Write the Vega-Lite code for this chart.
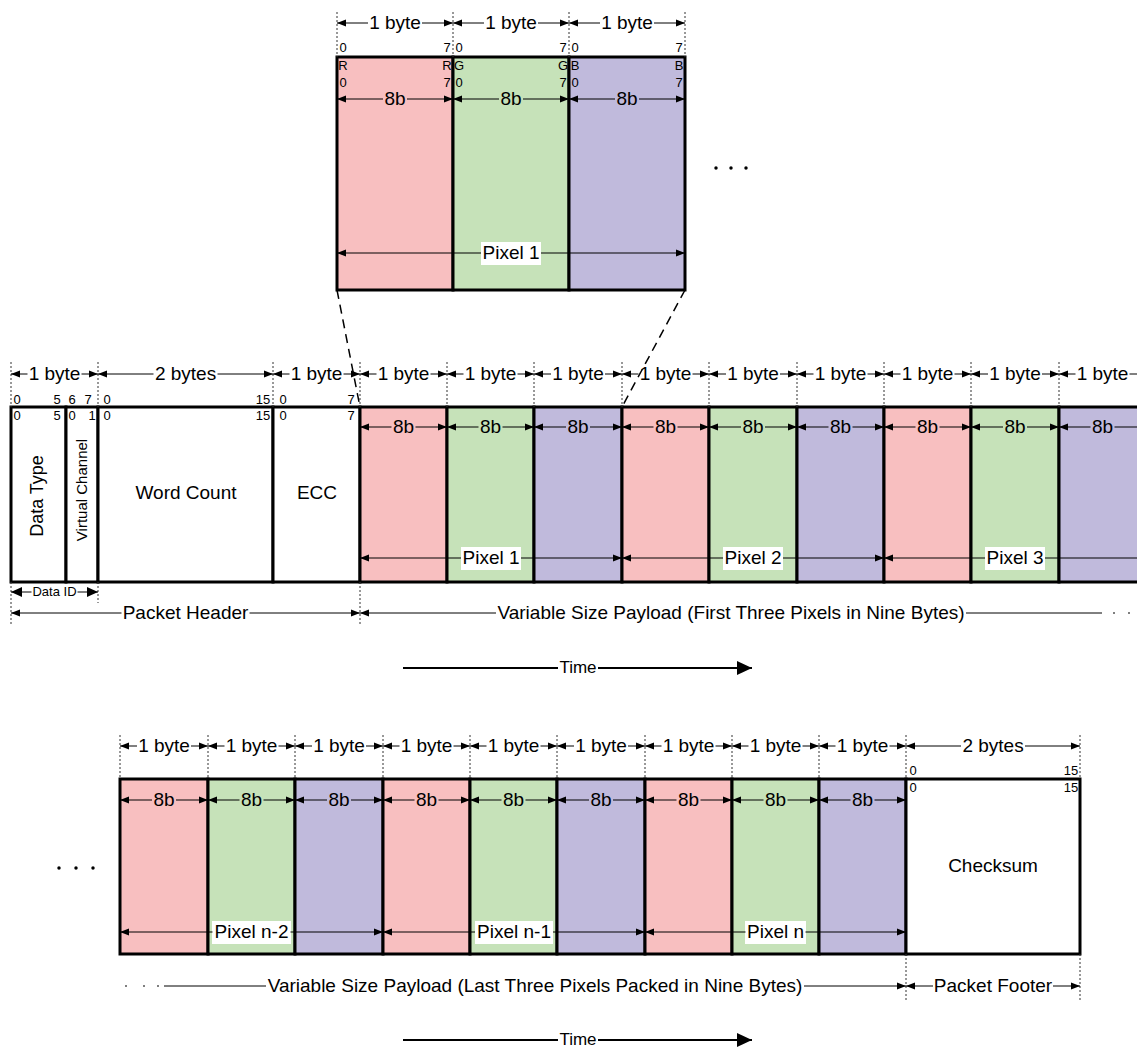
{
  "$schema": "https://vega.github.io/schema/vega-lite/v6.json",
  "width": 1137,
  "height": 1050,
  "autosize": "none",
  "padding": 0,
  "background": "white",
  "config": {"view": {"stroke": null}, "text": {"font": "Liberation Sans"}},
  "datasets": {
    "boxes": [
      {"x1": 337, "x2": 453, "y1": 57, "y2": 290, "c": "R"},
      {"x1": 453, "x2": 569, "y1": 57, "y2": 290, "c": "G"},
      {"x1": 569, "x2": 685, "y1": 57, "y2": 290, "c": "B"},
      {"x1": 11, "x2": 66, "y1": 407, "y2": 582, "c": "W"},
      {"x1": 66, "x2": 98, "y1": 407, "y2": 582, "c": "W"},
      {"x1": 98, "x2": 273, "y1": 407, "y2": 582, "c": "W"},
      {"x1": 273, "x2": 360, "y1": 407, "y2": 582, "c": "W"},
      {"x1": 360, "x2": 447, "y1": 407, "y2": 582, "c": "R"},
      {"x1": 447, "x2": 534, "y1": 407, "y2": 582, "c": "G"},
      {"x1": 534, "x2": 622, "y1": 407, "y2": 582, "c": "B"},
      {"x1": 622, "x2": 709, "y1": 407, "y2": 582, "c": "R"},
      {"x1": 709, "x2": 797, "y1": 407, "y2": 582, "c": "G"},
      {"x1": 797, "x2": 884, "y1": 407, "y2": 582, "c": "B"},
      {"x1": 884, "x2": 971, "y1": 407, "y2": 582, "c": "R"},
      {"x1": 971, "x2": 1059, "y1": 407, "y2": 582, "c": "G"},
      {"x1": 1059, "x2": 1146, "y1": 407, "y2": 582, "c": "B"},
      {"x1": 120, "x2": 208, "y1": 779, "y2": 954, "c": "R"},
      {"x1": 208, "x2": 295, "y1": 779, "y2": 954, "c": "G"},
      {"x1": 295, "x2": 383, "y1": 779, "y2": 954, "c": "B"},
      {"x1": 383, "x2": 470, "y1": 779, "y2": 954, "c": "R"},
      {"x1": 470, "x2": 557, "y1": 779, "y2": 954, "c": "G"},
      {"x1": 557, "x2": 645, "y1": 779, "y2": 954, "c": "B"},
      {"x1": 645, "x2": 732, "y1": 779, "y2": 954, "c": "R"},
      {"x1": 732, "x2": 819, "y1": 779, "y2": 954, "c": "G"},
      {"x1": 819, "x2": 906, "y1": 779, "y2": 954, "c": "B"},
      {"x1": 906, "x2": 1080, "y1": 779, "y2": 954, "c": "W"}
    ],
    "bgs": [
      {"x1": 481, "x2": 541, "y1": 242, "y2": 265},
      {"x1": 461, "x2": 521, "y1": 547, "y2": 570},
      {"x1": 723, "x2": 783, "y1": 547, "y2": 570},
      {"x1": 985, "x2": 1045, "y1": 547, "y2": 570},
      {"x1": 212, "x2": 291, "y1": 921, "y2": 944},
      {"x1": 475, "x2": 553, "y1": 921, "y2": 944},
      {"x1": 745, "x2": 806, "y1": 921, "y2": 944}
    ],
    "dotted": [
      {"x": 337, "y1": 12, "y2": 57}, {"x": 453, "y1": 12, "y2": 57}, {"x": 569, "y1": 12, "y2": 57}, {"x": 685, "y1": 12, "y2": 57},
      {"x": 11, "y1": 362, "y2": 407}, {"x": 98, "y1": 362, "y2": 407}, {"x": 273, "y1": 362, "y2": 407}, {"x": 360, "y1": 362, "y2": 407},
      {"x": 447, "y1": 362, "y2": 407}, {"x": 534, "y1": 362, "y2": 407}, {"x": 622, "y1": 362, "y2": 407}, {"x": 709, "y1": 362, "y2": 407},
      {"x": 797, "y1": 362, "y2": 407}, {"x": 884, "y1": 362, "y2": 407}, {"x": 971, "y1": 362, "y2": 407}, {"x": 1059, "y1": 362, "y2": 407},
      {"x": 11, "y1": 582, "y2": 625}, {"x": 98, "y1": 582, "y2": 603}, {"x": 360, "y1": 582, "y2": 625},
      {"x": 120, "y1": 735, "y2": 779}, {"x": 208, "y1": 735, "y2": 779}, {"x": 295, "y1": 735, "y2": 779}, {"x": 383, "y1": 735, "y2": 779},
      {"x": 470, "y1": 735, "y2": 779}, {"x": 557, "y1": 735, "y2": 779}, {"x": 645, "y1": 735, "y2": 779}, {"x": 732, "y1": 735, "y2": 779},
      {"x": 819, "y1": 735, "y2": 779}, {"x": 906, "y1": 735, "y2": 779}, {"x": 1080, "y1": 735, "y2": 779},
      {"x": 906, "y1": 954, "y2": 1000}, {"x": 1080, "y1": 954, "y2": 1000}
    ],
    "dashed": [
      {"x1": 337, "y1": 290, "x2": 360, "y2": 407},
      {"x1": 685, "y1": 290, "x2": 622, "y2": 407}
    ],
    "arrows": [
      {"x1": 337, "x2": 453, "t1": 368, "t2": 422, "y": 23, "lx": 395, "label": "1 byte", "role": "byte", "hl": true, "hr": true},
      {"x1": 453, "x2": 569, "t1": 484, "t2": 538, "y": 23, "lx": 511, "label": "1 byte", "role": "byte", "hl": true, "hr": true},
      {"x1": 569, "x2": 685, "t1": 600, "t2": 654, "y": 23, "lx": 627, "label": "1 byte", "role": "byte", "hl": true, "hr": true},
      {"x1": 337, "x2": 453, "t1": 383, "t2": 407, "y": 99, "lx": 395, "label": "8b", "role": "bit8", "hl": true, "hr": true},
      {"x1": 453, "x2": 569, "t1": 499, "t2": 523, "y": 99, "lx": 511, "label": "8b", "role": "bit8", "hl": true, "hr": true},
      {"x1": 569, "x2": 685, "t1": 615, "t2": 639, "y": 99, "lx": 627, "label": "8b", "role": "bit8", "hl": true, "hr": true},
      {"x1": 337, "x2": 685, "t1": 481, "t2": 541, "y": 253, "lx": 511, "label": "Pixel 1", "role": "pixel", "hl": true, "hr": true},

      {"x1": 11, "x2": 98, "t1": 27.5, "t2": 81.5, "y": 374, "lx": 54.5, "label": "1 byte", "role": "byte", "hl": true, "hr": true},
      {"x1": 98, "x2": 273, "t1": 153.5, "t2": 217.5, "y": 374, "lx": 185.5, "label": "2 bytes", "role": "byte", "hl": true, "hr": true},
      {"x1": 273, "x2": 360, "t1": 289.5, "t2": 343.5, "y": 374, "lx": 316.5, "label": "1 byte", "role": "byte", "hl": true, "hr": true},
      {"x1": 360, "x2": 447, "t1": 376.5, "t2": 430.5, "y": 374, "lx": 403.5, "label": "1 byte", "role": "byte", "hl": true, "hr": true},
      {"x1": 447, "x2": 534, "t1": 463.5, "t2": 517.5, "y": 374, "lx": 490.5, "label": "1 byte", "role": "byte", "hl": true, "hr": true},
      {"x1": 534, "x2": 622, "t1": 551, "t2": 605, "y": 374, "lx": 578, "label": "1 byte", "role": "byte", "hl": true, "hr": true},
      {"x1": 622, "x2": 709, "t1": 638.5, "t2": 692.5, "y": 374, "lx": 665.5, "label": "1 byte", "role": "byte", "hl": true, "hr": true},
      {"x1": 709, "x2": 797, "t1": 726, "t2": 780, "y": 374, "lx": 753, "label": "1 byte", "role": "byte", "hl": true, "hr": true},
      {"x1": 797, "x2": 884, "t1": 813.5, "t2": 867.5, "y": 374, "lx": 840.5, "label": "1 byte", "role": "byte", "hl": true, "hr": true},
      {"x1": 884, "x2": 971, "t1": 900.5, "t2": 954.5, "y": 374, "lx": 927.5, "label": "1 byte", "role": "byte", "hl": true, "hr": true},
      {"x1": 971, "x2": 1059, "t1": 988, "t2": 1042, "y": 374, "lx": 1015, "label": "1 byte", "role": "byte", "hl": true, "hr": true},
      {"x1": 1059, "x2": 1146, "t1": 1075.5, "t2": 1129.5, "y": 374, "lx": 1102.5, "label": "1 byte", "role": "byte", "hl": true, "hr": true},

      {"x1": 360, "x2": 447, "t1": 391.5, "t2": 415.5, "y": 427, "lx": 403.5, "label": "8b", "role": "bit8", "hl": true, "hr": true},
      {"x1": 447, "x2": 534, "t1": 478.5, "t2": 502.5, "y": 427, "lx": 490.5, "label": "8b", "role": "bit8", "hl": true, "hr": true},
      {"x1": 534, "x2": 622, "t1": 566, "t2": 590, "y": 427, "lx": 578, "label": "8b", "role": "bit8", "hl": true, "hr": true},
      {"x1": 622, "x2": 709, "t1": 653.5, "t2": 677.5, "y": 427, "lx": 665.5, "label": "8b", "role": "bit8", "hl": true, "hr": true},
      {"x1": 709, "x2": 797, "t1": 741, "t2": 765, "y": 427, "lx": 753, "label": "8b", "role": "bit8", "hl": true, "hr": true},
      {"x1": 797, "x2": 884, "t1": 828.5, "t2": 852.5, "y": 427, "lx": 840.5, "label": "8b", "role": "bit8", "hl": true, "hr": true},
      {"x1": 884, "x2": 971, "t1": 915.5, "t2": 939.5, "y": 427, "lx": 927.5, "label": "8b", "role": "bit8", "hl": true, "hr": true},
      {"x1": 971, "x2": 1059, "t1": 1003, "t2": 1027, "y": 427, "lx": 1015, "label": "8b", "role": "bit8", "hl": true, "hr": true},
      {"x1": 1059, "x2": 1146, "t1": 1090.5, "t2": 1114.5, "y": 427, "lx": 1102.5, "label": "8b", "role": "bit8", "hl": true, "hr": true},

      {"x1": 360, "x2": 622, "t1": 461, "t2": 521, "y": 558, "lx": 491, "label": "Pixel 1", "role": "pixel", "hl": true, "hr": true},
      {"x1": 622, "x2": 884, "t1": 723, "t2": 783, "y": 558, "lx": 753, "label": "Pixel 2", "role": "pixel", "hl": true, "hr": true},
      {"x1": 884, "x2": 1146, "t1": 985, "t2": 1045, "y": 558, "lx": 1015, "label": "Pixel 3", "role": "pixel", "hl": true, "hr": true},

      {"x1": 11, "x2": 98, "t1": 31.5, "t2": 77.5, "y": 592, "lx": 54.5, "label": "Data ID", "role": "dataid", "hl": true, "hr": true},
      {"x1": 11, "x2": 360, "t1": 121.5, "t2": 249.5, "y": 613, "lx": 185.5, "label": "Packet Header", "role": "span", "hl": true, "hr": true},
      {"x1": 360, "x2": 1102, "t1": 496, "t2": 966, "y": 613, "lx": 731, "label": "Variable Size Payload (First Three Pixels in Nine Bytes)", "role": "span", "hl": true, "hr": false},
      {"x1": 403, "x2": 752, "t1": 558, "t2": 598, "y": 668, "lx": 578, "label": "Time", "role": "time", "hl": false, "hr": false},

      {"x1": 120, "x2": 208, "t1": 137, "t2": 191, "y": 746, "lx": 164, "label": "1 byte", "role": "byte", "hl": true, "hr": true},
      {"x1": 208, "x2": 295, "t1": 224.5, "t2": 278.5, "y": 746, "lx": 251.5, "label": "1 byte", "role": "byte", "hl": true, "hr": true},
      {"x1": 295, "x2": 383, "t1": 312, "t2": 366, "y": 746, "lx": 339, "label": "1 byte", "role": "byte", "hl": true, "hr": true},
      {"x1": 383, "x2": 470, "t1": 399.5, "t2": 453.5, "y": 746, "lx": 426.5, "label": "1 byte", "role": "byte", "hl": true, "hr": true},
      {"x1": 470, "x2": 557, "t1": 486.5, "t2": 540.5, "y": 746, "lx": 513.5, "label": "1 byte", "role": "byte", "hl": true, "hr": true},
      {"x1": 557, "x2": 645, "t1": 574, "t2": 628, "y": 746, "lx": 601, "label": "1 byte", "role": "byte", "hl": true, "hr": true},
      {"x1": 645, "x2": 732, "t1": 661.5, "t2": 715.5, "y": 746, "lx": 688.5, "label": "1 byte", "role": "byte", "hl": true, "hr": true},
      {"x1": 732, "x2": 819, "t1": 748.5, "t2": 802.5, "y": 746, "lx": 775.5, "label": "1 byte", "role": "byte", "hl": true, "hr": true},
      {"x1": 819, "x2": 906, "t1": 835.5, "t2": 889.5, "y": 746, "lx": 862.5, "label": "1 byte", "role": "byte", "hl": true, "hr": true},
      {"x1": 906, "x2": 1080, "t1": 961, "t2": 1025, "y": 746, "lx": 993, "label": "2 bytes", "role": "byte", "hl": true, "hr": true},

      {"x1": 120, "x2": 208, "t1": 152, "t2": 176, "y": 800, "lx": 164, "label": "8b", "role": "bit8", "hl": true, "hr": true},
      {"x1": 208, "x2": 295, "t1": 239.5, "t2": 263.5, "y": 800, "lx": 251.5, "label": "8b", "role": "bit8", "hl": true, "hr": true},
      {"x1": 295, "x2": 383, "t1": 327, "t2": 351, "y": 800, "lx": 339, "label": "8b", "role": "bit8", "hl": true, "hr": true},
      {"x1": 383, "x2": 470, "t1": 414.5, "t2": 438.5, "y": 800, "lx": 426.5, "label": "8b", "role": "bit8", "hl": true, "hr": true},
      {"x1": 470, "x2": 557, "t1": 501.5, "t2": 525.5, "y": 800, "lx": 513.5, "label": "8b", "role": "bit8", "hl": true, "hr": true},
      {"x1": 557, "x2": 645, "t1": 589, "t2": 613, "y": 800, "lx": 601, "label": "8b", "role": "bit8", "hl": true, "hr": true},
      {"x1": 645, "x2": 732, "t1": 676.5, "t2": 700.5, "y": 800, "lx": 688.5, "label": "8b", "role": "bit8", "hl": true, "hr": true},
      {"x1": 732, "x2": 819, "t1": 763.5, "t2": 787.5, "y": 800, "lx": 775.5, "label": "8b", "role": "bit8", "hl": true, "hr": true},
      {"x1": 819, "x2": 906, "t1": 850.5, "t2": 874.5, "y": 800, "lx": 862.5, "label": "8b", "role": "bit8", "hl": true, "hr": true},

      {"x1": 120, "x2": 383, "t1": 212.5, "t2": 290.5, "y": 932, "lx": 251.5, "label": "Pixel n-2", "role": "pixel", "hl": true, "hr": true},
      {"x1": 383, "x2": 645, "t1": 475, "t2": 553, "y": 932, "lx": 514, "label": "Pixel n-1", "role": "pixel", "hl": true, "hr": true},
      {"x1": 645, "x2": 906, "t1": 745.5, "t2": 805.5, "y": 932, "lx": 775.5, "label": "Pixel n", "role": "pixel", "hl": true, "hr": true},

      {"x1": 164, "x2": 906, "t1": 266, "t2": 804, "y": 986, "lx": 535, "label": "Variable Size Payload (Last Three Pixels Packed in Nine Bytes)", "role": "span", "hl": false, "hr": true},
      {"x1": 906, "x2": 1080, "t1": 933, "t2": 1053, "y": 986, "lx": 993, "label": "Packet Footer", "role": "span", "hl": true, "hr": true},
      {"x1": 403, "x2": 752, "t1": 558, "t2": 598, "y": 1040, "lx": 578, "label": "Time", "role": "time", "hl": false, "hr": false}
    ],
    "dots": [
      {"x": 716, "y": 168, "k": "big"}, {"x": 731, "y": 168, "k": "big"}, {"x": 746, "y": 168, "k": "big"},
      {"x": 59, "y": 868, "k": "big"}, {"x": 76, "y": 868, "k": "big"}, {"x": 93, "y": 868, "k": "big"},
      {"x": 1114, "y": 613, "k": "small"}, {"x": 1129, "y": 613, "k": "small"},
      {"x": 126, "y": 986, "k": "small"}, {"x": 144, "y": 986, "k": "small"}, {"x": 158, "y": 986, "k": "small"}
    ],
    "bits": [
      {"x": 343, "y": 48, "t": "0"}, {"x": 447, "y": 48, "t": "7"}, {"x": 459, "y": 48, "t": "0"}, {"x": 563, "y": 48, "t": "7"}, {"x": 575, "y": 48, "t": "0"}, {"x": 679, "y": 48, "t": "7"},
      {"x": 343, "y": 66, "t": "R"}, {"x": 447, "y": 66, "t": "R"}, {"x": 459, "y": 66, "t": "G"}, {"x": 563, "y": 66, "t": "G"}, {"x": 575, "y": 66, "t": "B"}, {"x": 679, "y": 66, "t": "B"},
      {"x": 343, "y": 83, "t": "0"}, {"x": 447, "y": 83, "t": "7"}, {"x": 459, "y": 83, "t": "0"}, {"x": 563, "y": 83, "t": "7"}, {"x": 575, "y": 83, "t": "0"}, {"x": 679, "y": 83, "t": "7"},
      {"x": 17, "y": 400, "t": "0"}, {"x": 57, "y": 400, "t": "5"}, {"x": 72, "y": 400, "t": "6"}, {"x": 88, "y": 400, "t": "7"}, {"x": 107, "y": 400, "t": "0"}, {"x": 263, "y": 400, "t": "15"}, {"x": 283, "y": 400, "t": "0"}, {"x": 351, "y": 400, "t": "7"},
      {"x": 17, "y": 416, "t": "0"}, {"x": 57, "y": 416, "t": "5"}, {"x": 72, "y": 416, "t": "0"}, {"x": 92, "y": 416, "t": "1"}, {"x": 107, "y": 416, "t": "0"}, {"x": 263, "y": 416, "t": "15"}, {"x": 283, "y": 416, "t": "0"}, {"x": 351, "y": 416, "t": "7"},
      {"x": 913, "y": 771, "t": "0"}, {"x": 1071, "y": 771, "t": "15"}, {"x": 913, "y": 788, "t": "0"}, {"x": 1071, "y": 788, "t": "15"}
    ],
    "names": [
      {"x": 38, "y": 496, "t": "Data Type", "k": "v1"},
      {"x": 82, "y": 490, "t": "Virtual Channel", "k": "v2"},
      {"x": 186, "y": 493, "t": "Word Count", "k": "h"},
      {"x": 317, "y": 493, "t": "ECC", "k": "h"},
      {"x": 993, "y": 866, "t": "Checksum", "k": "h"}
    ]
  },
  "layer": [
    {
      "data": {"name": "boxes"},
      "mark": {"type": "rect", "stroke": "black", "strokeWidth": 3},
      "encoding": {
        "x": {"field": "x1", "type": "quantitative", "scale": {"domain": [0, 1137], "nice": false, "zero": false}, "axis": null},
        "x2": {"field": "x2"},
        "y": {"field": "y1", "type": "quantitative", "scale": {"domain": [0, 1050], "nice": false, "zero": false, "reverse": true}, "axis": null},
        "y2": {"field": "y2"},
        "fill": {"field": "c", "type": "nominal", "scale": {"domain": ["R", "G", "B", "W"], "range": ["#f8bfc0", "#c6e2b9", "#c0badc", "#ffffff"]}, "legend": null}
      }
    },
    {
      "data": {"name": "bgs"},
      "mark": {"type": "rect", "fill": "white"},
      "encoding": {
        "x": {"field": "x1", "type": "quantitative", "axis": null},
        "x2": {"field": "x2"},
        "y": {"field": "y1", "type": "quantitative", "axis": null},
        "y2": {"field": "y2"}
      }
    },
    {
      "data": {"name": "dotted"},
      "mark": {"type": "rule", "color": "#333333", "strokeWidth": 1, "strokeDash": [2, 2]},
      "encoding": {
        "x": {"field": "x", "type": "quantitative", "axis": null},
        "y": {"field": "y1", "type": "quantitative", "axis": null},
        "y2": {"field": "y2"}
      }
    },
    {
      "data": {"name": "dashed"},
      "mark": {"type": "rule", "color": "black", "strokeWidth": 1.5, "strokeDash": [9, 6]},
      "encoding": {
        "x": {"field": "x1", "type": "quantitative", "axis": null},
        "x2": {"field": "x2"},
        "y": {"field": "y1", "type": "quantitative", "axis": null},
        "y2": {"field": "y2"}
      }
    },
    {
      "data": {"name": "arrows"},
      "mark": {"type": "rule", "color": "black"},
      "encoding": {
        "x": {"field": "x1", "type": "quantitative", "axis": null},
        "x2": {"field": "t1"},
        "y": {"field": "y", "type": "quantitative", "axis": null},
        "strokeWidth": {"condition": {"test": "datum.role === 'time'", "value": 2}, "value": 1}
      }
    },
    {
      "data": {"name": "arrows"},
      "mark": {"type": "rule", "color": "black"},
      "encoding": {
        "x": {"field": "t2", "type": "quantitative", "axis": null},
        "x2": {"field": "x2"},
        "y": {"field": "y", "type": "quantitative", "axis": null},
        "strokeWidth": {"condition": {"test": "datum.role === 'time'", "value": 2}, "value": 1}
      }
    },
    {
      "data": {"name": "arrows"},
      "transform": [{"filter": "datum.hl && datum.role !== 'dataid'"}],
      "mark": {"type": "point", "shape": "M0,0L2,-0.8L2,0.8Z", "filled": true, "color": "black", "opacity": 1, "size": 81},
      "encoding": {
        "x": {"field": "x1", "type": "quantitative", "axis": null},
        "y": {"field": "y", "type": "quantitative", "axis": null}
      }
    },
    {
      "data": {"name": "arrows"},
      "transform": [{"filter": "datum.hr && datum.role !== 'dataid'"}],
      "mark": {"type": "point", "shape": "M0,0L-2,-0.8L-2,0.8Z", "filled": true, "color": "black", "opacity": 1, "size": 81},
      "encoding": {
        "x": {"field": "x2", "type": "quantitative", "axis": null},
        "y": {"field": "y", "type": "quantitative", "axis": null}
      }
    },
    {
      "data": {"name": "arrows"},
      "transform": [{"filter": "datum.role === 'dataid'"}],
      "mark": {"type": "point", "shape": "M0,0L2,-0.9L2,0.9Z", "filled": true, "color": "black", "opacity": 1, "size": 121},
      "encoding": {
        "x": {"field": "x1", "type": "quantitative", "axis": null},
        "y": {"field": "y", "type": "quantitative", "axis": null}
      }
    },
    {
      "data": {"name": "arrows"},
      "transform": [{"filter": "datum.role === 'dataid'"}],
      "mark": {"type": "point", "shape": "M0,0L-2,-0.9L-2,0.9Z", "filled": true, "color": "black", "opacity": 1, "size": 121},
      "encoding": {
        "x": {"field": "x2", "type": "quantitative", "axis": null},
        "y": {"field": "y", "type": "quantitative", "axis": null}
      }
    },
    {
      "data": {"name": "arrows"},
      "transform": [{"filter": "datum.role === 'time'"}],
      "mark": {"type": "point", "shape": "M0,0L-2,-0.93L-2,0.93Z", "filled": true, "color": "black", "opacity": 1, "size": 225},
      "encoding": {
        "x": {"field": "x2", "type": "quantitative", "axis": null},
        "y": {"field": "y", "type": "quantitative", "axis": null}
      }
    },
    {
      "data": {"name": "dots"},
      "transform": [{"filter": "datum.k === 'big'"}],
      "mark": {"type": "point", "shape": "circle", "filled": true, "color": "black", "opacity": 1, "size": 12},
      "encoding": {
        "x": {"field": "x", "type": "quantitative", "axis": null},
        "y": {"field": "y", "type": "quantitative", "axis": null}
      }
    },
    {
      "data": {"name": "dots"},
      "transform": [{"filter": "datum.k === 'small'"}],
      "mark": {"type": "point", "shape": "circle", "filled": true, "color": "#555555", "opacity": 1, "size": 4},
      "encoding": {
        "x": {"field": "x", "type": "quantitative", "axis": null},
        "y": {"field": "y", "type": "quantitative", "axis": null}
      }
    },
    {
      "data": {"name": "arrows"},
      "transform": [{"filter": "datum.role !== 'dataid' && datum.role !== 'time'"}],
      "mark": {"type": "text", "fontSize": 19, "font": "Liberation Sans", "align": "center", "baseline": "middle", "color": "black"},
      "encoding": {
        "x": {"field": "lx", "type": "quantitative", "axis": null},
        "y": {"field": "y", "type": "quantitative", "axis": null},
        "text": {"field": "label"}
      }
    },
    {
      "data": {"name": "arrows"},
      "transform": [{"filter": "datum.role === 'dataid'"}],
      "mark": {"type": "text", "fontSize": 13, "font": "Liberation Sans", "align": "center", "baseline": "middle", "color": "black"},
      "encoding": {
        "x": {"field": "lx", "type": "quantitative", "axis": null},
        "y": {"field": "y", "type": "quantitative", "axis": null},
        "text": {"field": "label"}
      }
    },
    {
      "data": {"name": "arrows"},
      "transform": [{"filter": "datum.role === 'time'"}],
      "mark": {"type": "text", "fontSize": 17, "font": "Liberation Sans", "align": "center", "baseline": "middle", "color": "black"},
      "encoding": {
        "x": {"field": "lx", "type": "quantitative", "axis": null},
        "y": {"field": "y", "type": "quantitative", "axis": null},
        "text": {"field": "label"}
      }
    },
    {
      "data": {"name": "bits"},
      "mark": {"type": "text", "fontSize": 13, "font": "Liberation Sans", "align": "center", "baseline": "middle", "color": "black"},
      "encoding": {
        "x": {"field": "x", "type": "quantitative", "axis": null},
        "y": {"field": "y", "type": "quantitative", "axis": null},
        "text": {"field": "t"}
      }
    },
    {
      "data": {"name": "names"},
      "transform": [{"filter": "datum.k === 'h'"}],
      "mark": {"type": "text", "fontSize": 19, "font": "Liberation Sans", "align": "center", "baseline": "middle", "color": "black"},
      "encoding": {
        "x": {"field": "x", "type": "quantitative", "axis": null},
        "y": {"field": "y", "type": "quantitative", "axis": null},
        "text": {"field": "t"}
      }
    },
    {
      "data": {"name": "names"},
      "transform": [{"filter": "datum.k === 'v1'"}],
      "mark": {"type": "text", "fontSize": 18, "font": "Liberation Sans", "align": "center", "baseline": "middle", "angle": 270, "color": "black"},
      "encoding": {
        "x": {"field": "x", "type": "quantitative", "axis": null},
        "y": {"field": "y", "type": "quantitative", "axis": null},
        "text": {"field": "t"}
      }
    },
    {
      "data": {"name": "names"},
      "transform": [{"filter": "datum.k === 'v2'"}],
      "mark": {"type": "text", "fontSize": 15, "font": "Liberation Sans", "align": "center", "baseline": "middle", "angle": 270, "color": "black"},
      "encoding": {
        "x": {"field": "x", "type": "quantitative", "axis": null},
        "y": {"field": "y", "type": "quantitative", "axis": null},
        "text": {"field": "t"}
      }
    }
  ]
}
